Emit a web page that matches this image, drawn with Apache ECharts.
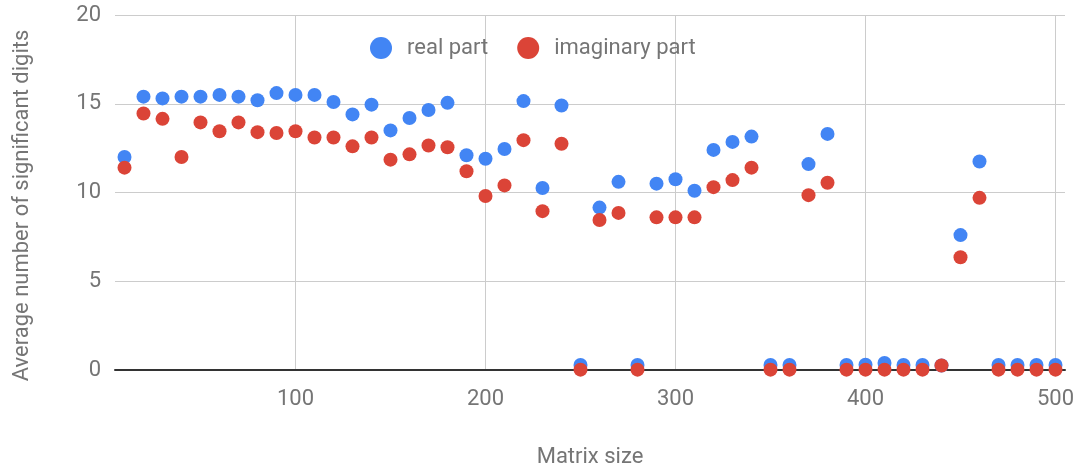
<!DOCTYPE html>
<html>
<head>
<meta charset="utf-8">
<script src="https://cdn.jsdelivr.net/npm/echarts@6/dist/echarts.min.js"></script>
<style>
html,body{margin:0;padding:0;background:#fff;}
#chart{width:1078px;height:469px;}
</style>
</head>
<body>
<div id="chart"></div>
<script>
const matrixSizes = [10,20,30,40,50,60,70,80,90,100,110,120,130,140,150,160,170,180,190,200,210,220,230,240,250,260,270,280,290,300,310,320,330,340,350,360,370,380,390,400,410,420,430,440,450,460,470,480,490,500];
const realPart = [12.0,15.4,15.3,15.4,15.4,15.5,15.4,15.2,15.6,15.5,15.5,15.1,14.4,14.95,13.5,14.2,14.65,15.05,12.1,11.9,12.45,15.15,10.25,14.9,0.28,9.15,10.6,0.28,10.5,10.75,10.1,12.4,12.85,13.15,0.28,0.28,11.6,13.3,0.28,0.3,0.4,0.28,0.28,0.25,7.6,11.75,0.28,0.28,0.28,0.28];
const imagPart = [11.4,14.45,14.15,12.0,13.95,13.45,13.95,13.4,13.35,13.45,13.1,13.1,12.6,13.1,11.85,12.15,12.65,12.55,11.2,9.8,10.4,12.95,8.95,12.75,0.02,8.45,8.85,0.02,8.6,8.6,8.6,10.3,10.7,11.4,0.02,0.02,9.85,10.55,0.02,0.02,0.02,0.02,0.02,0.25,6.35,9.7,0.02,0.02,0.02,0.02];
const xTicks = [100,200,300,400,500];
const seriesNames = ['real part','imaginary part'];

const font = 'Roboto';
const grey = '#757575';
const chart = echarts.init(document.getElementById('chart'));
chart.setOption({
  animation:false,
  backgroundColor:'#ffffff',
  legend:{
    top:32, left:365,
    itemWidth:42, itemHeight:22, itemGap:29,
    icon:'circle',
    textStyle:{fontFamily:font,fontSize:22,color:grey},
    data:seriesNames
  },
  grid:{left:115,right:13,top:15,bottom:99,containLabel:false,outerBoundsMode:'none'},
  xAxis:{
    type:'value', min:5, max:505,
    name:'Matrix size', nameLocation:'middle', nameGap:76,
    nameTextStyle:{fontFamily:font,fontSize:22,color:grey},
    axisLine:{show:true,onZero:false,lineStyle:{color:'#333333',width:2}},
    axisTick:{show:false,customValues:xTicks},
    axisLabel:{fontFamily:font,fontSize:22,color:grey,margin:18,customValues:xTicks},
    splitLine:{show:true,lineStyle:{color:'#cccccc',width:1}}
  },
  yAxis:{
    type:'value', min:0, max:20, interval:5,
    name:'Average number of significant digits', nameLocation:'middle', nameGap:82,
    nameTextStyle:{fontFamily:font,fontSize:22,color:grey,padding:[0,26,0,0]},
    axisLine:{show:false}, axisTick:{show:false},
    axisLabel:{fontFamily:font,fontSize:22,color:grey,margin:14},
    splitLine:{show:true,lineStyle:{color:'#cccccc',width:1}}
  },
  series:[
    {name:seriesNames[0], type:'scatter', symbol:'circle', symbolSize:14, clip:false,
     itemStyle:{color:'#4285f4',opacity:1},
     data:matrixSizes.map((x,i)=>[x,realPart[i]])},
    {name:seriesNames[1], type:'scatter', symbol:'circle', symbolSize:14, clip:false,
     itemStyle:{color:'#db4437',opacity:1},
     data:matrixSizes.map((x,i)=>[x,imagPart[i]])}
  ]
});
</script>
</body>
</html>
